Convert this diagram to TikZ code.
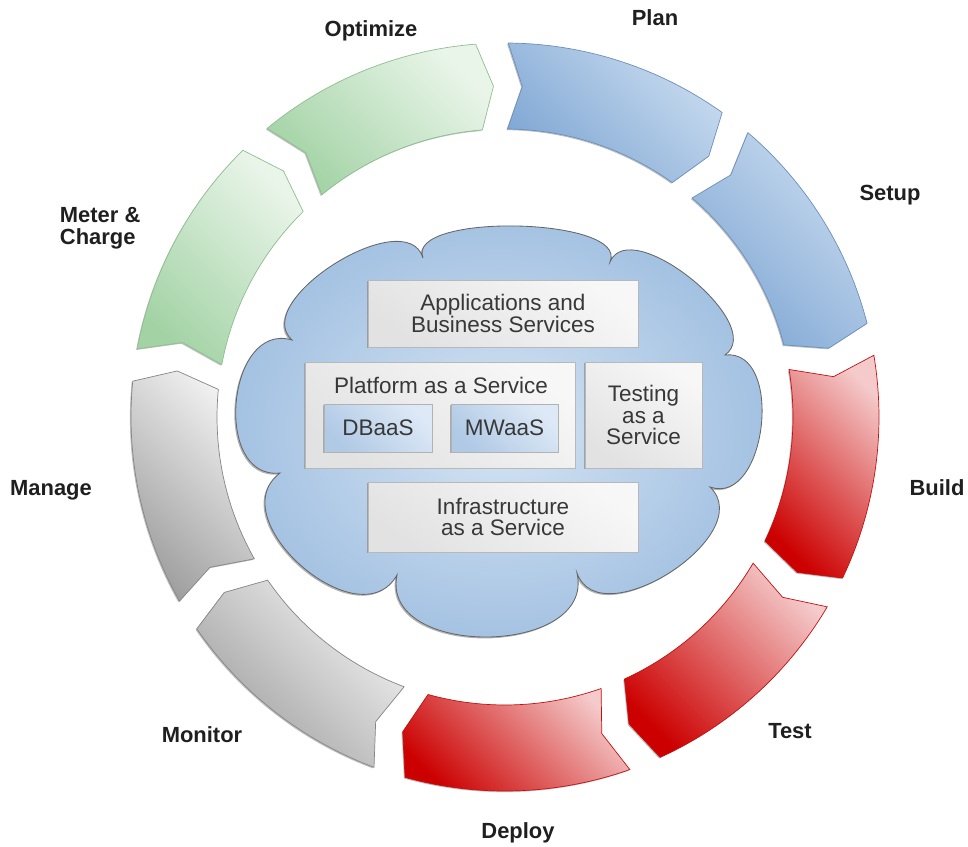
\documentclass[tikz,border=0pt]{standalone}
\usepackage{fontspec}
\setmainfont{Liberation Sans}
\usetikzlibrary{shadows}

\definecolor{seggreenlight}{HTML}{EAF5EA}
\definecolor{seggreendark}{HTML}{A3D3A5}
\definecolor{seggreenline}{HTML}{8DBF8F}
\definecolor{segbluelight}{HTML}{C8DBEF}
\definecolor{segbluedark}{HTML}{80A7D4}
\definecolor{segblueline}{HTML}{6A8FBD}
\definecolor{segredlight}{HTML}{F4CACA}
\definecolor{segreddark}{HTML}{CC0000}
\definecolor{segredline}{HTML}{C41010}
\definecolor{seggraylight}{HTML}{F2F2F2}
\definecolor{seggraydark}{HTML}{9E9E9E}
\definecolor{seggrayline}{HTML}{858585}
\definecolor{cloudlight}{HTML}{D5E4F3}
\definecolor{clouddark}{HTML}{A0BFE1}
\definecolor{boxlight}{HTML}{F7F7F7}
\definecolor{boxdark}{HTML}{E2E2E2}
\definecolor{subboxlight}{HTML}{DDE9F6}
\definecolor{subboxdark}{HTML}{B0C9E5}

\def\rout{9.35}
\def\rin{7.2}
\def\rmid{8.275}
\def\gap{2.5}
\def\tip{2.5}
% one arrow piece of the ring, from angle #2 clockwise to angle #3
\def\ringseg[#1](#2:#3){\draw[#1] ({#2-\gap}:\rout) arc[start angle={#2-\gap}, end angle={#3+\gap}, radius=\rout] -- ({#3+\gap-\tip}:\rmid) -- ({#3+\gap}:\rin) arc[start angle={#3+\gap}, end angle={#2-\gap}, radius=\rin] -- ({#2-\gap-\tip}:\rmid) -- cycle}

\tikzset{
	seg/.style={line width=0.5pt, drop shadow={shadow xshift=-0.8pt, shadow yshift=-0.8pt, opacity=0.5}},
	greenseg/.style={seg, draw=seggreenline, top color=seggreenlight, bottom color=seggreendark, shading angle=-45},
	blueseg/.style={seg, draw=segblueline, top color=segbluelight, bottom color=segbluedark, shading angle=-45},
	redseg/.style={seg, draw=segredline, top color=segredlight, bottom color=segreddark, shading angle=-45},
	grayseg/.style={seg, draw=seggrayline, top color=seggraylight, bottom color=seggraydark, shading angle=-45},
	phase/.style={font=\fontsize{15.6}{16}\selectfont\bfseries, text=black!88, align=left},
	skycloud/.style={draw=black!60, line width=0.6pt, inner color=cloudlight, outer color=clouddark, drop shadow={shadow xshift=-1pt, shadow yshift=-1pt, opacity=0.6}},
	svctext/.style={font=\fontsize{16}{15}\selectfont, text=black!78},
	svcbox/.style={svctext, draw=black!28, line width=0.5pt, top color=boxlight, bottom color=boxdark, shading angle=-35, drop shadow={shadow xshift=-1pt, shadow yshift=-1pt, opacity=0.6}, inner sep=0pt, align=center},
	subbox/.style={svcbox, draw=black!30, top color=subboxlight, bottom color=subboxdark, shading angle=-45}
}

\begin{document}
\begin{tikzpicture}
	%%%%% FRAME %%%%%
	\useasboundingbox (-12.625, -10.725) rectangle (11.575, 10.425);

	%%%%% RING %%%%%
	\ringseg[blueseg](92:52);
	\ringseg[blueseg](52:12);
	\ringseg[redseg](12:-28);
	\ringseg[redseg](-28:-68);
	\ringseg[redseg](-68:-108);
	\ringseg[grayseg](-108:-148);
	\ringseg[grayseg](-148:-188);
	\ringseg[greenseg](-188:-228);
	\ringseg[greenseg](-228:-268);

	\node[phase] (plan) at (3.75, 9.975) {Plan};
	\node[phase] (setup) at (9.625, 5.55) {Setup};
	\node[phase] (build) at (10.8, -1.775) {Build};
	\node[phase] (test) at (7.125, -7.85) {Test};
	\node[phase] (deploy) at (0.325, -10.4) {Deploy};
	\node[phase] (monitor) at (-7.575, -7.95) {Monitor};
	\node[phase] (manage) at (-11.35, -1.825) {Manage};
	\node[phase, anchor=west] (meter) at (-11.25, 4.725) {Meter \&\\Charge};
	\node[phase] (optimize) at (-3.35, 9.65) {Optimize};

	%%%%% CLOUD %%%%%
	\draw[skycloud] (-5.325, 1.925)
		.. controls (-6.396, 2.907) and (-2.466, 5.367) .. (-2.05, 3.975)
		.. controls (-2.494, 5.118) and (3.117, 4.998) .. (2.625, 3.875)
		.. controls (3.135, 5.093) and (6.585, 2.303) .. (5.5, 1.55)
		.. controls (6.995, 1.714) and (6.545, -2.246) .. (5.125, -1.75)
		.. controls (6.363, -2.935) and (2.373, -5.515) .. (1.8, -3.9)
		.. controls (2.273, -5.995) and (-3.127, -6.055) .. (-2.7, -3.95)
		.. controls (-3.634, -5.612) and (-7.144, -2.552) .. (-5.625, -1.4)
		.. controls (-7.315, -1.583) and (-6.955, 2.408) .. (-5.325, 1.925) -- cycle;

	%%%%% SERVICES %%%%%
	\node[svcbox, minimum width=6.75cm, minimum height=1.675cm] (apps) at (-0.05, 2.5875) {Applications and\\Business Services};
	\node[svcbox, minimum width=6.75cm, minimum height=2.65cm] (paas) at (-1.625, 0.05) {};
	\node[svcbox, minimum width=2.925cm, minimum height=2.65cm] (taas) at (3.4625, 0.05) {Testing\\as a\\Service};
	\node[svcbox, minimum width=6.75cm, minimum height=1.75cm] (iaas) at (-0.05, -2.5) {Infrastructure\\as a Service};
	\node[svctext] (paastitle) at (-1.6, 0.8) {Platform as a Service};
	\node[subbox, minimum width=2.7cm, minimum height=1.2cm] (dbaas) at (-3.175, -0.275) {DBaaS};
	\node[subbox, minimum width=2.675cm, minimum height=1.2cm] (mwaas) at (-0.0125, -0.275) {MWaaS};
\end{tikzpicture}
\end{document}
